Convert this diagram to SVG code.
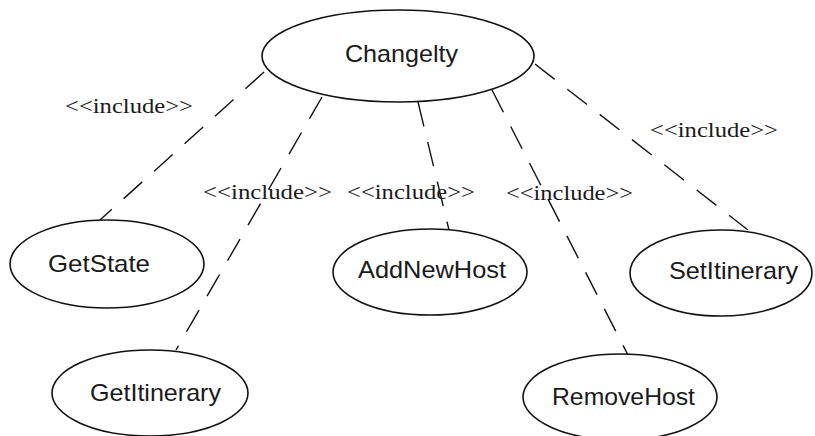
<svg xmlns="http://www.w3.org/2000/svg" width="815" height="436" viewBox="0 0 815 436">
  <style>
    .uc ellipse { fill: #ffffff; stroke: #111111; stroke-width: 1.6; }
    .uc text { font-family: "Liberation Sans", Arial, sans-serif; font-size: 24px; fill: #1a1a1a; }
    .dep line { stroke: #111111; stroke-width: 1.4; stroke-dasharray: 25 16; fill: none; }
    .stereo { font-family: "Liberation Serif", "Times New Roman", serif; font-size: 21px; fill: #1a1a1a; }
  </style>
  <rect width="815" height="436" fill="#ffffff"/>

  <!-- include dependencies -->
  <g id="connectors" class="dep">
    <line x1="264" y1="72" x2="100" y2="220"/>
    <line x1="322" y1="97" x2="176" y2="350"/>
    <line x1="418" y1="102" x2="449" y2="230"/>
    <line x1="492" y1="90" x2="628" y2="355"/>
    <line x1="535" y1="64" x2="748" y2="230"/>
  </g>

  <g id="labels">
    <text class="stereo" x="65" y="113" textLength="128" lengthAdjust="spacingAndGlyphs">&lt;&lt;include&gt;&gt;</text>
    <text class="stereo" x="203" y="199" textLength="129" lengthAdjust="spacingAndGlyphs">&lt;&lt;include&gt;&gt;</text>
    <text class="stereo" x="347" y="199" textLength="128" lengthAdjust="spacingAndGlyphs">&lt;&lt;include&gt;&gt;</text>
    <text class="stereo" x="506" y="200" textLength="127" lengthAdjust="spacingAndGlyphs">&lt;&lt;include&gt;&gt;</text>
    <text class="stereo" x="650" y="137" textLength="128" lengthAdjust="spacingAndGlyphs">&lt;&lt;include&gt;&gt;</text>
  </g>

  <!-- use cases -->
  <g id="changeIty" class="uc">
    <ellipse cx="398" cy="56" rx="136" ry="46"/>
    <text x="345" y="62" textLength="113" lengthAdjust="spacingAndGlyphs">Changelty</text>
  </g>
  <g id="getState" class="uc">
    <ellipse cx="107" cy="264" rx="97" ry="44"/>
    <text x="48" y="272" textLength="102" lengthAdjust="spacingAndGlyphs">GetState</text>
  </g>
  <g id="getItinerary" class="uc">
    <ellipse cx="150" cy="393" rx="98" ry="43"/>
    <text x="90" y="401" textLength="131" lengthAdjust="spacingAndGlyphs">GetItinerary</text>
  </g>
  <g id="addNewHost" class="uc">
    <ellipse cx="430" cy="272" rx="97" ry="43"/>
    <text x="358" y="278" textLength="148" lengthAdjust="spacingAndGlyphs">AddNewHost</text>
  </g>
  <g id="setItinerary" class="uc">
    <ellipse cx="721" cy="273" rx="91" ry="43"/>
    <text x="669" y="279" textLength="129" lengthAdjust="spacingAndGlyphs">SetItinerary</text>
  </g>
  <g id="removeHost" class="uc">
    <ellipse cx="620" cy="397" rx="97" ry="43"/>
    <text x="552" y="405" textLength="143" lengthAdjust="spacingAndGlyphs">RemoveHost</text>
  </g>
</svg>
